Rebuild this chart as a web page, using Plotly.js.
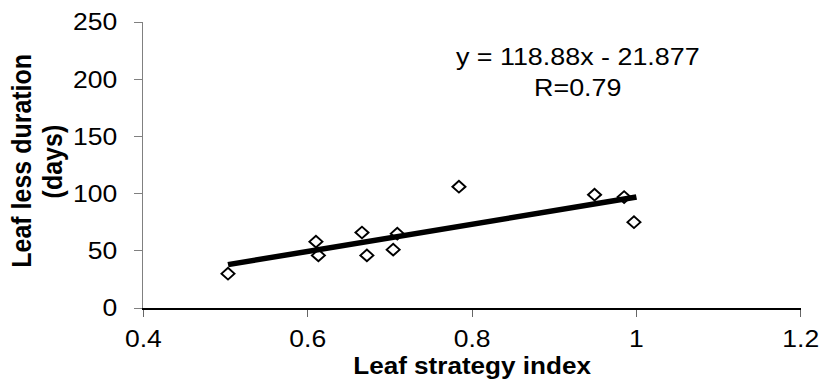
<!DOCTYPE html>
<html>
<head>
<meta charset="utf-8">
<script src="https://cdn.plot.ly/plotly-3.0.1.min.js"></script>
<style>
html,body{margin:0;padding:0;background:#fff;overflow:hidden;}
#chart{width:733px;height:385px;transform:scaleX(1.12);transform-origin:0 0;}
</style>
</head>
<body>
<div id="chart"></div>
<script>
// Leaf strategy index (x) vs leaf less duration in days (y)
var strategyIndex = [0.503, 0.610, 0.613, 0.666, 0.672, 0.704, 0.709, 0.784, 0.949, 0.985, 0.997];
var leaflessDays  = [30, 58, 46, 66, 46, 51, 65, 106, 99, 97, 75];
// Reported linear fit
var slope = 118.88;
var intercept = -21.877;
var rValue = 0.79;
var xTicks = [0.4, 0.6, 0.8, 1, 1.2];
var yTicks = [0, 50, 100, 150, 200, 250];
var yTitleLines = ['Leaf less duration', '(days)'];

var xMin = Math.min.apply(null, strategyIndex);
var xMax = 1.0;
var trendX = [xMin, xMax];
var trendY = trendX.map(function(v){ return slope * v + intercept; });

var font = 'Liberation Sans, Arial, sans-serif';

var data = [
  {
    x: trendX, y: trendY, type: 'scatter', mode: 'lines',
    line: {color: '#000', width: 5.5}, hoverinfo: 'skip', showlegend: false
  },
  {
    x: strategyIndex, y: leaflessDays, type: 'scatter', mode: 'markers',
    marker: {symbol: 'diamond-open', size: 9, color: '#000', line: {color: '#000', width: 1.8}},
    showlegend: false
  }
];

var layout = {
  width: 733, height: 385,
  margin: {l: 128, r: 18, t: 22, b: 77},
  paper_bgcolor: '#fff', plot_bgcolor: '#fff',
  font: {family: font, size: 23.7, color: '#000'},
  showlegend: false,
  xaxis: {
    range: [0.4, 1.2], tickvals: xTicks, ticktext: xTicks.map(String),
    showgrid: false, zeroline: false,
    showline: true, linecolor: '#000', linewidth: 1.5,
    ticks: 'outside', ticklen: 7, tickcolor: '#666', tickwidth: 1,
    ticklabelstandoff: 2,
    tickfont: {family: font, size: 23.7, color: '#000'},
    title: {text: '<b>Leaf strategy index</b>', font: {family: font, size: 23.3, color: '#000'}, standoff: 7}
  },
  yaxis: {
    range: [0, 250], tickvals: yTicks, ticktext: yTicks.map(String),
    showgrid: false, zeroline: false,
    showline: true, linecolor: '#808080', linewidth: 1.5,
    ticks: 'outside', ticklen: 7, tickcolor: '#808080', tickwidth: 1,
    ticklabelstandoff: 10,
    tickfont: {family: font, size: 23.7, color: '#000'}
  },
  annotations: [
    {
      xref: 'x', yref: 'y', x: 0.929, y: 206, yanchor: 'middle', xanchor: 'center',
      text: 'y = ' + slope + 'x - ' + Math.abs(intercept) + '<br>R=' + rValue,
      showarrow: false, align: 'center',
      font: {family: font, size: 24, color: '#000'}
    },
    {
      xref: 'paper', yref: 'paper', x: -0.186, y: 0.514, xanchor: 'center', yanchor: 'middle',
      textangle: -90, showarrow: false,
      text: '<b>' + yTitleLines[0] + '</b>',
      font: {family: font, size: 25, color: '#000'}
    },
    {
      xref: 'paper', yref: 'paper', x: -0.139, y: 0.514, xanchor: 'center', yanchor: 'middle',
      textangle: -90, showarrow: false,
      text: '<b>' + yTitleLines[1] + '</b>',
      font: {family: font, size: 25, color: '#000'}
    }
  ]
};

Plotly.newPlot('chart', data, layout, {displayModeBar: false, staticPlot: true});
</script>
</body>
</html>
